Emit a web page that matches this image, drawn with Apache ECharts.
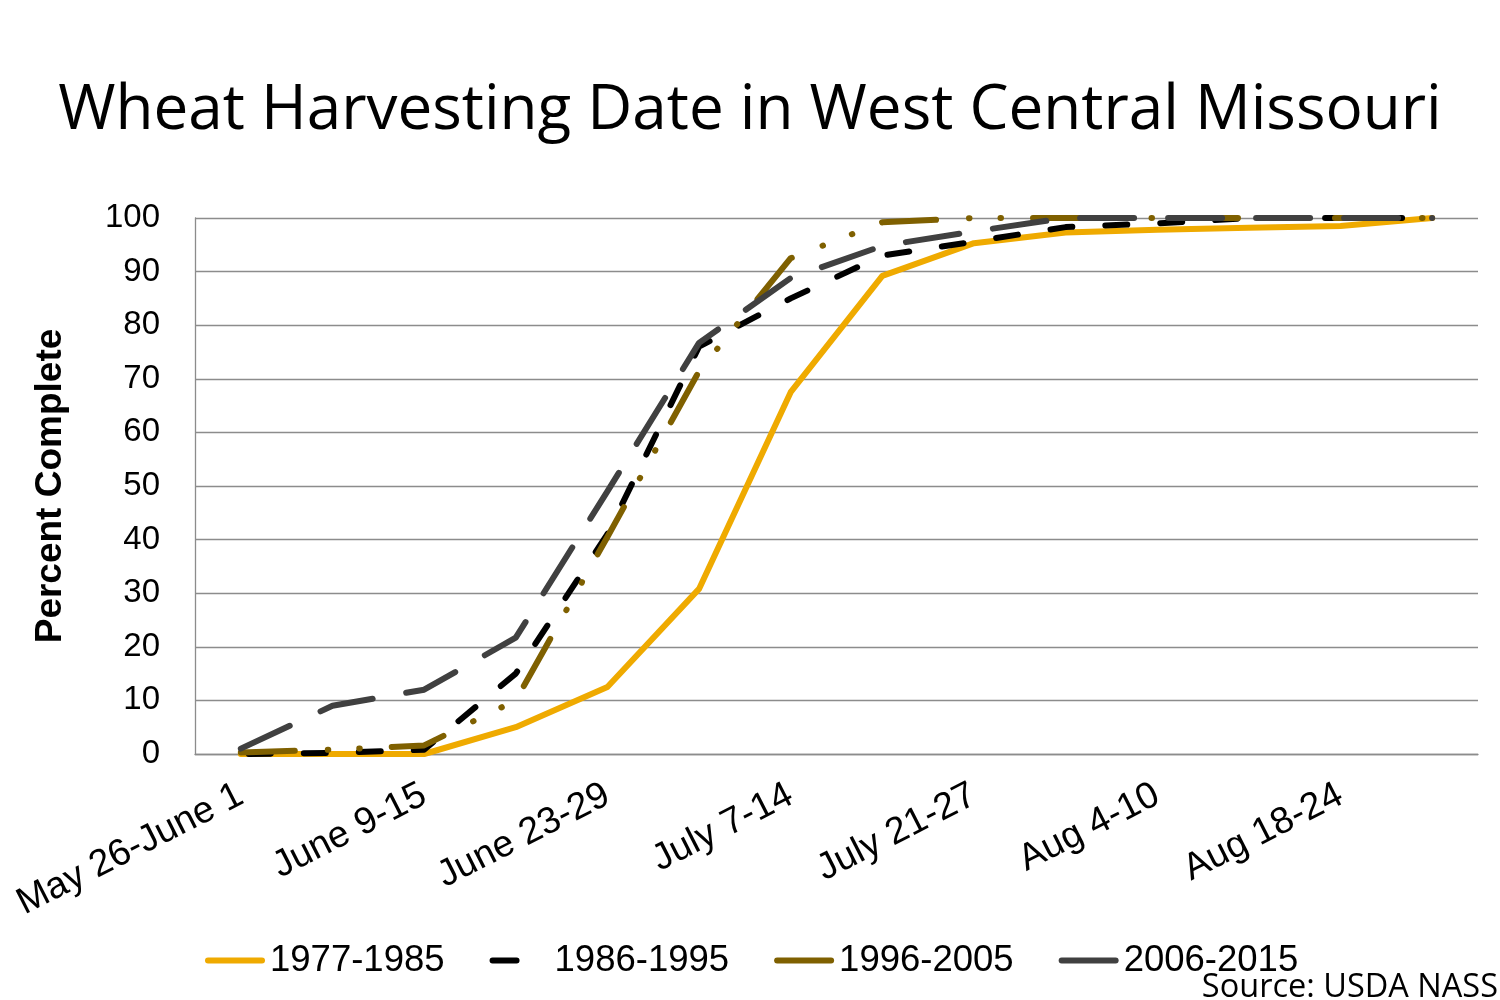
<!DOCTYPE html>
<html>
<head>
<meta charset="utf-8">
<script src="https://cdn.jsdelivr.net/npm/echarts@6/dist/echarts.min.js"></script>
<style>
html,body{margin:0;padding:0;background:#fff;}
#chart{width:1500px;height:1000px;}
</style>
</head>
<body>
<div id="chart"></div>
<script>
var categories = ["May 26-June 1", "June 2-8", "June 9-15", "June 16-22", "June 23-29", "June 30-July 6", "July 7-14", "July 15-20", "July 21-27", "July 28-Aug 3", "Aug 4-10", "Aug 11-17", "Aug 18-24", "Aug 25-31"];
var seriesNames = ["1977-1985", "1986-1995", "1996-2005", "2006-2015"];
var s1977 = [0, 0, 0, 5, 12.5, 30.8, 67.5, 89.2, 95.3, 97.3, 97.8, 98.2, 98.5, 100];
var s1986 = [0, 0.2, 0.8, 15, 41, 76, 85, 93, 95.6, 98.3, 99, 100, 100, 100];
var s1996 = [0.3, 0.8, 1.6, 10, 40.5, 71.4, 92.5, 99.2, 100, 100, 100, 100, 100, 100];
var s2006 = [1, 9, 12, 21.7, 49, 76.7, 88.8, 94.8, 97.5, 100, 100, 100, 100, 100];
var yTicks = [0, 10, 20, 30, 40, 50, 60, 70, 80, 90, 100];

var solidIcon = 'path://M3,0h54a3,3 0 0 1 0,6h-54a3,3 0 0 1 0,-6z';
var dashIcon = 'path://M3,0h24a3,3 0 0 1 0,6h-24a3,3 0 0 1 0,-6zM0,0L0,0.01M60,6L60,5.99';

var chart = echarts.init(document.getElementById('chart'));
function mk(name, data, color, type, offset) {
  return {
    name: name, type: 'line', data: data, symbol: 'none', smooth: false,
    lineStyle: { color: color, width: 6, type: type, cap: 'round', join: 'round', dashOffset: offset || 0 },
    itemStyle: { color: color },
    emphasis: { disabled: true }
  };
}
chart.setOption({
  animation: false,
  backgroundColor: '#fff',
  title: {
    text: 'Wheat Harvesting Date in West Central Missouri',
    left: 'center', top: 75,
    textStyle: { fontFamily: 'Open Sans', fontWeight: 'normal', fontSize: 62, color: '#000' }
  },
  legend: {
    left: 205, top: 942, padding: 0, itemWidth: 60, itemHeight: 6, itemGap: 45,
    textStyle: { fontFamily: 'Liberation Sans', fontSize: 36.5, color: '#000' },
    data: [
      { name: seriesNames[0], icon: solidIcon },
      { name: seriesNames[1], icon: dashIcon },
      { name: seriesNames[2], icon: solidIcon },
      { name: seriesNames[3], icon: solidIcon }
    ]
  },
  grid: { left: 195, right: 22, top: 218, bottom: 246 },
  xAxis: {
    type: 'category', data: categories, boundaryGap: true,
    axisTick: { show: false },
    axisLine: { lineStyle: { color: '#8c8c8c', width: 1.3 } },
    axisLabel: { interval: 1, rotate: 27, margin: 39, fontFamily: 'Liberation Sans', fontSize: 37.5, color: '#000' }
  },
  yAxis: {
    type: 'value', min: 0, max: 100, interval: 10,
    name: 'Percent Complete', nameLocation: 'middle', nameGap: 126, nameRotate: 90,
    nameTextStyle: { fontFamily: 'Liberation Sans', fontWeight: 'bold', fontSize: 37, color: '#000' },
    axisLine: { show: true, lineStyle: { color: '#8c8c8c', width: 1.3 } },
    axisTick: { show: false },
    splitLine: { lineStyle: { color: '#8c8c8c', width: 1.3 } },
    axisLabel: { margin: 35, fontFamily: 'Liberation Sans', fontSize: 33, color: '#000',
      formatter: function (v) { return yTicks.indexOf(v) >= 0 ? String(v) : ''; } }
  },
  graphic: [{
    type: 'text', right: 2, top: 971,
    style: { text: 'Source: USDA NASS', fontFamily: 'Open Sans', fontSize: 32.5, fill: '#000' }
  }],
  series: [
    mk(seriesNames[0], s1977, '#EFAA00', 'solid'),
    mk(seriesNames[1], s1986, '#000000', [22, 33], 47),
    mk(seriesNames[2], s1996, '#7F6000', [54, 33, 0.5, 31, 0.5, 32]),
    mk(seriesNames[3], s2006, '#404040', [54, 34])
  ]
});
</script>
</body>
</html>
